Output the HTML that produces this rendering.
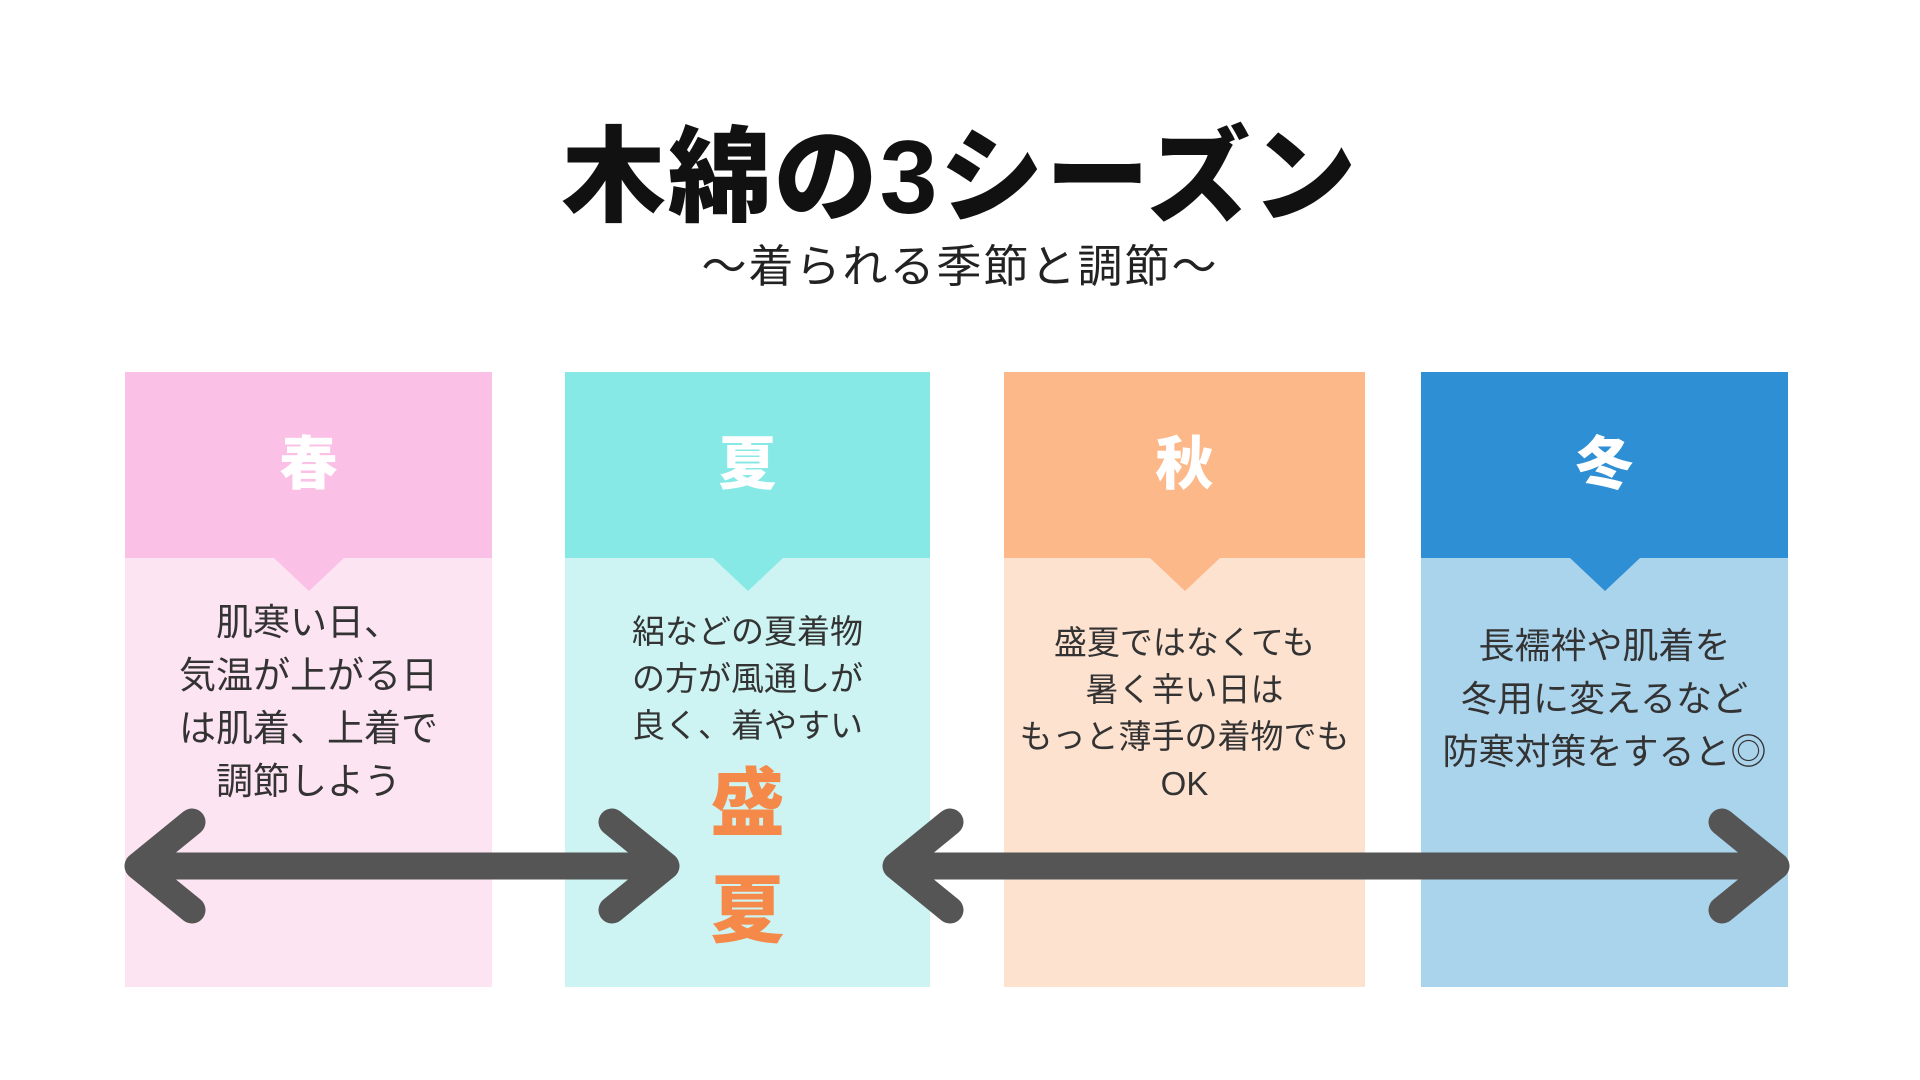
<!DOCTYPE html>
<html><head><meta charset="utf-8"><style>
body{margin:0;width:1920px;height:1080px;background:#fff;position:relative;overflow:hidden;font-family:"Liberation Sans","Noto Sans CJK JP",sans-serif;}
.t{position:absolute;left:0;width:1920px;text-align:center;}
.card{position:absolute;top:372px;height:615px;}
.hd{position:absolute;left:0;top:0;width:100%;height:186px;color:#fff;font-weight:900;font-size:58px;text-align:center;line-height:186px;}
.tri{position:absolute;top:186px;left:50%;margin-left:-35px;width:0;height:0;border-left:35px solid transparent;border-right:35px solid transparent;border-top:33px solid;}
.bd{position:absolute;left:0;width:100%;text-align:center;color:#333;}
</style></head><body>
<div class="t" style="top:92px;font-size:104px;font-weight:900;color:#111;letter-spacing:2px;">木綿の3シーズン</div>
<div class="t" style="top:230px;font-size:45px;color:#222;letter-spacing:2px;">〜着られる季節と調節〜</div>

<div class="card" style="left:125px;width:367px;background:#fde4f3;">
<div class="hd" style="background:#fbc0e6;">春</div><div class="tri" style="border-top-color:#fbc0e6"></div>
<div class="bd" style="top:224px;font-size:37px;line-height:53px;">肌寒い日、<br>気温が上がる日<br>は肌着、上着で<br>調節しよう</div></div>

<div class="card" style="left:565px;width:365px;background:#cdf4f3;">
<div class="hd" style="background:#87e9e6;">夏</div><div class="tri" style="border-top-color:#87e9e6"></div>
<div class="bd" style="top:236px;font-size:33px;line-height:47px;">絽などの夏着物<br>の方が風通しが<br>良く、着やすい</div>
<div class="bd" style="top:378px;font-size:74px;line-height:107px;font-weight:900;color:#f5894a;">盛<br>夏</div></div>

<div class="card" style="left:1004px;width:361px;background:#fde2d0;">
<div class="hd" style="background:#fdb88a;">秋</div><div class="tri" style="border-top-color:#fdb88a"></div>
<div class="bd" style="top:247px;font-size:33px;line-height:47px;">盛夏ではなくても<br>暑く辛い日は<br>もっと薄手の着物でも<br>OK</div></div>

<div class="card" style="left:1421px;width:367px;background:#aad3ec;">
<div class="hd" style="background:#2e8fd4;">冬</div><div class="tri" style="border-top-color:#2e8fd4"></div>
<div class="bd" style="top:247px;font-size:36px;line-height:53px;">長襦袢や肌着を<br>冬用に変えるなど<br>防寒対策をすると◎</div></div>

<svg width="1920" height="1080" style="position:absolute;left:0;top:0" fill="none" stroke="#555" stroke-linecap="round" stroke-linejoin="round">
<g stroke-width="27">
<line x1="140" y1="866" x2="665" y2="866"/>
<polyline points="192,822 138,866 192,910"/>
<polyline points="612,822 666,866 612,910"/>
<line x1="900" y1="866" x2="1772" y2="866"/>
<polyline points="950,822 896,866 950,910"/>
<polyline points="1722,822 1776,866 1722,910"/>
</g></svg>
</body></html>
